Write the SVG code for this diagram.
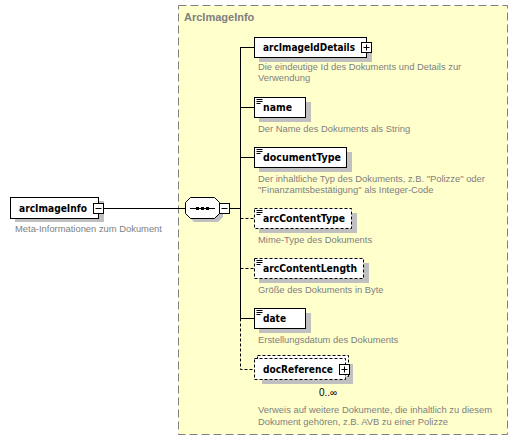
<svg xmlns="http://www.w3.org/2000/svg" width="518" height="440" viewBox="0 0 518 440">
<defs>
<style>
.lbl{font-family:"DejaVu Sans",Verdana,sans-serif;font-weight:bold;font-size:11px;fill:#000}
.desc{font-family:"Liberation Sans",Arial,sans-serif;font-size:9.4px;fill:#808080}
.box{fill:#fff;stroke:#000;stroke-width:1}
.dbox{fill:#fff;stroke:#000;stroke-width:1;stroke-dasharray:3,2}
.sh{fill:#c0c0c0}
.ln{stroke:#000;stroke-width:1;fill:none}
.dl{stroke:#000;stroke-width:1;fill:none;stroke-dasharray:3,2}
.ic{stroke:#000;stroke-width:1}
</style>
<g id="simple"><path d="M256.5 99.5h6M256.5 101.5h6M256.5 103.5h4" stroke="#000" stroke-width="1"/></g>
</defs>
<rect width="518" height="440" fill="#fff"/>
<g id="complexType">
<rect x="178.5" y="5.5" width="329" height="429" fill="#ffffcc" stroke="#808080" stroke-dasharray="8,4"/>
<text x="184" y="21" font-family="Liberation Sans,Arial,sans-serif" font-weight="bold" font-size="11" fill="#808080">ArcImageInfo</text>
</g>
<g id="connectors">
<path class="ln" d="M104 208.5H185M229 208.5H240.5M240.5 47V318.5M240.5 47.5H254M240.5 107.5H254M240.5 157.5H254M240.5 318.5H254"/>
<path class="dl" d="M240.5 318.5V369.5H254M240.5 218.5H254M240.5 268.5H254"/>
</g>
<g id="arcImageInfo">
<rect class="sh" x="15" y="201" width="89" height="21"/>
<rect class="box" x="10.5" y="197.5" width="88" height="21"/>
<text class="lbl" x="19" y="212" textLength="68" lengthAdjust="spacingAndGlyphs">arcImageInfo</text>
<rect class="box" x="93.5" y="203.5" width="10" height="10"/>
<path class="ic" d="M95.5 208.5h6"/>
<text class="desc" x="15" y="232" font-size="9.6">Meta-Informationen zum Dokument</text>
</g>
<g id="sequence">
<path class="sh" d="M194 201H218L223 206V217L218 222H194L189 217V206Z"/>
<path d="M190.5 197.5H214.5L219.5 202.5V213.5L214.5 218.5H190.5L185.5 213.5V202.5Z" fill="#fff" stroke="#000"/>
<path class="ic" d="M190 208.5H215"/>
<rect x="196" y="207" width="3" height="3" fill="#000"/>
<rect x="201" y="207" width="3" height="3" fill="#000"/>
<rect x="206" y="207" width="3" height="3" fill="#000"/>
<rect class="box" x="219.5" y="203.5" width="10" height="10"/>
<path class="ic" d="M221.5 208.5h6"/>
</g>
<g id="arcImageIdDetails">
<rect class="sh" x="259" y="42" width="113" height="20"/>
<rect class="box" x="254.5" y="37.5" width="112" height="20"/>
<text class="lbl" x="263" y="51" textLength="92" lengthAdjust="spacingAndGlyphs">arcImageIdDetails</text>
<rect class="box" x="361.5" y="42.5" width="10" height="10"/>
<path class="ic" d="M363.5 47.5h6M366.5 44.5v6"/>
<text class="desc" x="258" y="70">Die eindeutige Id des Dokuments und Details zur</text>
<text class="desc" x="258" y="81">Verwendung</text>
</g>
<g id="name">
<rect class="sh" x="259" y="102" width="52" height="20"/>
<rect class="box" x="254.5" y="97.5" width="51" height="20"/>
<use href="#simple"/>
<text class="lbl" x="263" y="111" textLength="29" lengthAdjust="spacingAndGlyphs">name</text>
<text class="desc" x="258" y="132">Der Name des Dokuments als String</text>
</g>
<g id="documentType">
<rect class="sh" x="259" y="152" width="93" height="20"/>
<rect class="box" x="254.5" y="147.5" width="92" height="20"/>
<use href="#simple" y="50"/>
<text class="lbl" x="263" y="161" textLength="78" lengthAdjust="spacingAndGlyphs">documentType</text>
<text class="desc" x="258" y="182">Der inhaltliche Typ des Dokuments, z.B. "Polizze" oder</text>
<text class="desc" x="258" y="193">"Finanzamtsbestätigung" als Integer-Code</text>
</g>
<g id="arcContentType">
<rect class="sh" x="259" y="213" width="98" height="20"/>
<rect class="dbox" x="254.5" y="208.5" width="97" height="20"/>
<use href="#simple" y="111"/>
<text class="lbl" x="263" y="222" textLength="82" lengthAdjust="spacingAndGlyphs">arcContentType</text>
<text class="desc" x="258" y="243">Mime-Type des Dokuments</text>
</g>
<g id="arcContentLength">
<rect class="sh" x="259" y="263" width="110" height="20"/>
<rect class="dbox" x="254.5" y="258.5" width="109" height="20"/>
<use href="#simple" y="161"/>
<text class="lbl" x="263" y="272" textLength="94" lengthAdjust="spacingAndGlyphs">arcContentLength</text>
<text class="desc" x="258" y="293">Größe des Dokuments in Byte</text>
</g>
<g id="date">
<rect class="sh" x="259" y="313" width="52" height="20"/>
<rect class="box" x="254.5" y="308.5" width="51" height="20"/>
<use href="#simple" y="211"/>
<text class="lbl" x="263" y="322" textLength="23" lengthAdjust="spacingAndGlyphs">date</text>
<text class="desc" x="258" y="343">Erstellungsdatum des Dokuments</text>
</g>
<g id="docReference">
<rect class="sh" x="262" y="364" width="91" height="20"/>
<rect class="dbox" x="257.5" y="355.5" width="91" height="21"/>
<rect class="dbox" x="254.5" y="358.5" width="91" height="21"/>
<text class="lbl" x="263" y="373" textLength="70" lengthAdjust="spacingAndGlyphs">docReference</text>
<rect class="box" x="339.5" y="364.5" width="10" height="10"/>
<path class="ic" d="M341.5 369.5h6M344.5 366.5v6"/>
<text x="319" y="396" font-family="Liberation Sans,Arial,sans-serif" font-size="10" fill="#000">0..∞</text>
<text class="desc" x="258" y="413">Verweis auf weitere Dokumente, die inhaltlich zu diesem</text>
<text class="desc" x="258" y="425">Dokument gehören, z.B. AVB zu einer Polizze</text>
</g>
</svg>
